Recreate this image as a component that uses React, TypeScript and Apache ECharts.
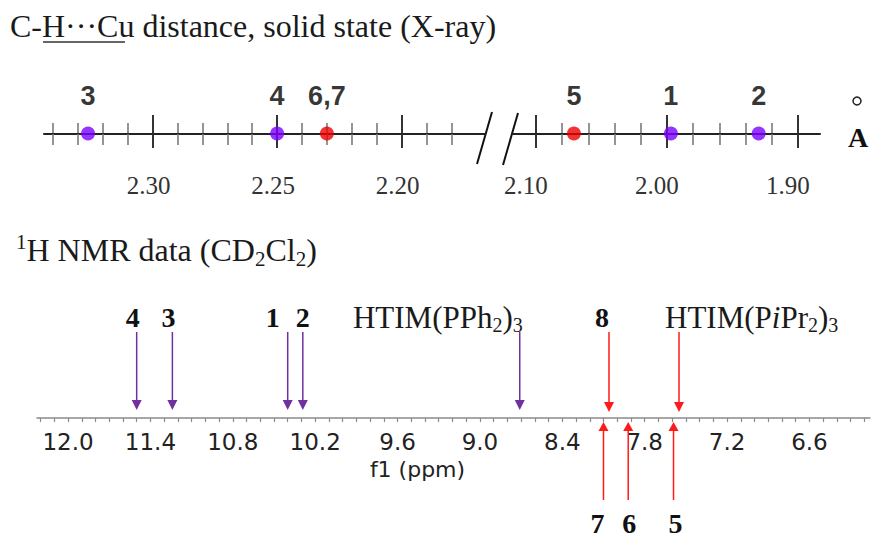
import React, { useEffect, useRef } from 'react';
import * as echarts from 'echarts';

// ---------- X-ray C-H···Cu distances (Å) ----------
const xrayCompounds = ['3', '4', '6,7', '5', '1', '2'];
const xrayDistances = [2.326, 2.25, 2.23, 2.071, 1.997, 1.93];

const xrayLeftMinorTicks = [2.34, 2.33, 2.32, 2.31, 2.29, 2.28, 2.27, 2.26, 2.24, 2.23, 2.22, 2.21, 2.19, 2.18];
const xrayLeftMajorTicks = [2.3, 2.25, 2.2];
const xrayRightMinorTicks = [2.08, 2.06, 2.04, 2.02, 1.98, 1.96, 1.94, 1.92];
const xrayRightMajorTicks = [2.1, 2.0, 1.9];
const xrayLeftTickLabels = [2.3, 2.25, 2.2];
const xrayRightTickLabels = [2.1, 2.0, 1.9];

// ---------- 1H NMR shifts (ppm) ----------
const nmrCompounds = ['4', '3', '1', '2', 'HTIM(PPh2)3', '8', 'HTIM(PiPr2)3', '7', '6', '5'];
const nmrShifts = [11.5, 11.24, 10.4, 10.29, 8.71, 8.06, 7.55, 8.1, 7.92, 7.59];
const nmrTickLabels = [12.0, 11.4, 10.8, 10.2, 9.6, 9.0, 8.4, 7.8, 7.2, 6.6];
const nmrMinorTicks = Array.from({ length: 61 }, (_, i) => Math.round((6.2 + i * 0.1) * 10) / 10);

// ---------- styles ----------
const SERIF = '"Liberation Serif", "Times New Roman", serif';
const SANS = '"Liberation Sans", Arial, sans-serif';
const NMR_FONT = '"DejaVu Sans", Verdana, sans-serif';
const INK = '#1a1a1a';
const PURPLE_DOT = '#7b00ff';
const RED_DOT = '#ee0000';
const PURPLE_ARROW = '#7030a0';
const RED_ARROW = '#ff1a1a';
const redCompounds = new Set(['6,7', '5']);
const BREAK_VALUE = 2.15;

const arrowKind: Record<string, 'purpleDown' | 'redDown' | 'redUp'> = {
  '4': 'purpleDown', '3': 'purpleDown', '1': 'purpleDown', '2': 'purpleDown', 'HTIM(PPh2)3': 'purpleDown',
  '8': 'redDown', 'HTIM(PiPr2)3': 'redDown',
  '7': 'redUp', '6': 'redUp', '5': 'redUp',
};
const labelDx: Record<string, number> = { '4': -4, '3': -4, '1': -15, '2': 0, '8': -7, '7': -6, '6': 1, '5': 2 };

const richLabel = (name: string) => {
  if (name === 'HTIM(PPh2)3') return '{n|HTIM(PPh}{s|2}{n|)}{s|3}';
  if (name === 'HTIM(PiPr2)3') return '{n|HTIM(P}{i|i}{n|Pr}{s|2}{n|)}{s|3}';
  return `{b|${name}}`;
};

const LABEL_RICH = {
  n: { fontFamily: SERIF, fontSize: 31, lineHeight: 36, fill: INK },
  i: { fontFamily: SERIF, fontSize: 31, fontStyle: 'italic', lineHeight: 36, fill: INK },
  s: { fontFamily: SERIF, fontSize: 20, lineHeight: 16, verticalAlign: 'bottom', fill: INK },
  b: { fontFamily: SERIF, fontSize: 28, fontWeight: 'bold', lineHeight: 24, fill: '#111' },
};

const TITLE_RICH = {
  n: { fontFamily: SERIF, fontSize: 32, lineHeight: 38, fill: INK },
  s: { fontFamily: SERIF, fontSize: 21, lineHeight: 16, verticalAlign: 'bottom', fill: INK },
  sup: { fontFamily: SERIF, fontSize: 21, lineHeight: 30, verticalAlign: 'top', fill: INK },
};

const LEFT_RANGE = { min: 2.16645, max: 2.3437 };
const RIGHT_RANGE = { min: 1.8832, max: 2.1175 };
const NMR_RANGE = { min: 6.159, max: 12.226 };

const tickAxis = (gridIndex: number, position: string, ticks: number[], length: number, color: string, width: number, range: any) => ({
  type: 'value',
  gridIndex,
  position,
  min: range.min,
  max: range.max,
  inverse: true,
  axisLine: { show: false, onZero: false },
  axisTick: { show: true, customValues: ticks, length, inside: false, lineStyle: { color, width } },
  axisLabel: { show: false },
  splitLine: { show: false },
});

const mainAxis = (gridIndex: number, ticks: number[], labels: number[], range: any, labelShift: number) => ({
  type: 'value',
  gridIndex,
  position: 'bottom',
  min: range.min,
  max: range.max,
  inverse: true,
  axisLine: { show: true, onZero: false, lineStyle: { color: '#222', width: 2 } },
  axisTick: { show: true, customValues: ticks, length: 11, inside: false, lineStyle: { color: '#7a7a7a', width: 1.6 } },
  axisLabel: {
    show: true,
    customValues: labels,
    formatter: (v: number) => v.toFixed(2),
    margin: 39,
    fontFamily: SERIF,
    fontSize: 25,
    color: '#333',
    padding: [0, labelShift * 2, 0, 0],
  },
  splitLine: { show: false },
});

export default function App() {
  const ref = useRef<HTMLDivElement>(null);

  useEffect(() => {
    if (!ref.current) return;
    const chart = echarts.init(ref.current, null, { renderer: 'svg' });

    const dots = xrayCompounds.map((c, i) => ({
      name: c,
      value: [xrayDistances[i], 0],
      itemStyle: { color: redCompounds.has(c) ? RED_DOT : PURPLE_DOT },
    }));
    const dotLabel = {
      show: true,
      position: 'top',
      distance: 17,
      formatter: '{b}',
      fontFamily: SANS,
      fontWeight: 'bold',
      fontSize: 27,
      color: '#000',
    };

    const option: any = {
      animation: false,
      backgroundColor: '#fff',
      grid: [
        { left: 44, top: 133, width: 441, height: 1, outerBoundsMode: 'none', containLabel: false },
        { left: 513, top: 133, width: 307, height: 1, outerBoundsMode: 'none', containLabel: false },
        { left: 37, top: 300, width: 833, height: 118, outerBoundsMode: 'none', containLabel: false },
      ],
      xAxis: [
        mainAxis(0, xrayLeftMinorTicks, xrayLeftTickLabels, LEFT_RANGE, 4),
        tickAxis(0, 'top', xrayLeftMinorTicks, 10, '#7a7a7a', 1.6, LEFT_RANGE),
        tickAxis(0, 'bottom', xrayLeftMajorTicks, 14, '#333', 2, LEFT_RANGE),
        tickAxis(0, 'top', xrayLeftMajorTicks, 18, '#333', 2, LEFT_RANGE),
        mainAxis(1, xrayRightMinorTicks, xrayRightTickLabels, RIGHT_RANGE, 10),
        tickAxis(1, 'top', xrayRightMinorTicks, 10, '#7a7a7a', 1.6, RIGHT_RANGE),
        tickAxis(1, 'bottom', xrayRightMajorTicks, 14, '#333', 2, RIGHT_RANGE),
        tickAxis(1, 'top', xrayRightMajorTicks, 18, '#333', 2, RIGHT_RANGE),
        {
          type: 'value',
          gridIndex: 2,
          position: 'bottom',
          min: NMR_RANGE.min,
          max: NMR_RANGE.max,
          inverse: true,
          axisLine: { show: true, onZero: false, lineStyle: { color: '#8a8a8a', width: 1.5 } },
          axisTick: { show: true, customValues: nmrMinorTicks, length: 4, inside: false, lineStyle: { color: '#8a8a8a', width: 1.2 } },
          axisLabel: {
            show: true,
            customValues: nmrTickLabels,
            formatter: (v: number) => v.toFixed(1),
            margin: 12,
            fontFamily: NMR_FONT,
            fontSize: 23,
            color: '#222',
          },
          name: 'f1 (ppm)',
          nameLocation: 'middle',
          nameGap: 40,
          nameTextStyle: { fontFamily: NMR_FONT, fontSize: 22, color: '#222', padding: [0, 72, 0, 0] },
          splitLine: { show: false },
        },
      ],
      yAxis: [
        { type: 'value', gridIndex: 0, min: -1, max: 1, show: false },
        { type: 'value', gridIndex: 1, min: -1, max: 1, show: false },
        { type: 'value', gridIndex: 2, min: 0, max: 1, show: false },
      ],
      series: [
        {
          type: 'scatter',
          xAxisIndex: 0,
          yAxisIndex: 0,
          symbol: 'circle',
          symbolSize: 14,
          data: dots.filter((d) => d.value[0] > BREAK_VALUE),
          label: dotLabel,
          z: 5,
        },
        {
          type: 'scatter',
          xAxisIndex: 4,
          yAxisIndex: 1,
          symbol: 'circle',
          symbolSize: 14,
          data: dots.filter((d) => d.value[0] < BREAK_VALUE),
          label: dotLabel,
          z: 5,
        },
        {
          type: 'custom',
          xAxisIndex: 8,
          yAxisIndex: 2,
          clip: false,
          data: nmrShifts.map((v) => [v, 0]),
          renderItem: (params: any, api: any) => {
            const name = nmrCompounds[params.dataIndex];
            const kind = arrowKind[name];
            const [x, y0] = api.coord([api.value(0), 0]);
            const color = kind === 'purpleDown' ? PURPLE_ARROW : RED_ARROW;
            const children: any[] = [];
            if (kind === 'redUp') {
              children.push({ type: 'line', shape: { x1: x, y1: y0 + 12, x2: x, y2: y0 + 82 }, style: { stroke: color, lineWidth: 1.5 } });
              children.push({ type: 'polygon', shape: { points: [[x - 5, y0 + 13], [x + 5, y0 + 13], [x, y0 + 4]] }, style: { fill: color } });
            } else {
              const tipY = kind === 'purpleDown' ? y0 - 8 : y0 - 6;
              children.push({ type: 'line', shape: { x1: x, y1: y0 - 86, x2: x, y2: tipY - 9 }, style: { stroke: color, lineWidth: 1.5 } });
              children.push({ type: 'polygon', shape: { points: [[x - 5, tipY - 10], [x + 5, tipY - 10], [x, tipY]] }, style: { fill: color } });
            }
            let lx = x + (labelDx[name] ?? 0);
            let align = 'center';
            if (name === 'HTIM(PPh2)3') { lx = x + 3; align = 'right'; }
            if (name === 'HTIM(PiPr2)3') { lx = x - 14; align = 'left'; }
            const ly = kind === 'redUp' ? y0 + 105 : y0 - 101;
            children.push({
              type: 'text',
              x: lx,
              y: ly,
              style: { text: richLabel(name), rich: LABEL_RICH, align, verticalAlign: 'middle' },
            });
            return { type: 'group', children };
          },
        },
      ],
      graphic: [
        {
          type: 'text', x: 10, y: 26,
          style: { text: '{n|C-H···Cu distance, solid state (X-ray)}', rich: TITLE_RICH, align: 'left', verticalAlign: 'middle', textAlign: 'left', textVerticalAlign: 'middle' },
        },
        { type: 'line', shape: { x1: 43, y1: 42, x2: 125, y2: 42 }, style: { stroke: '#333', lineWidth: 1.5 } },
        {
          type: 'text', x: 16, y: 250,
          style: { text: '{sup|1}{n|H NMR data (CD}{s|2}{n|Cl}{s|2}{n|)}', rich: TITLE_RICH, align: 'left', verticalAlign: 'middle', textAlign: 'left', textVerticalAlign: 'middle' },
        },
        { type: 'line', shape: { x1: 477, y1: 164, x2: 492, y2: 112 }, style: { stroke: '#111', lineWidth: 2 } },
        { type: 'line', shape: { x1: 503, y1: 165, x2: 518, y2: 113 }, style: { stroke: '#111', lineWidth: 2 } },
        {
          type: 'text', x: 858, y: 137,
          style: { text: 'A', font: `bold 28px ${SERIF}`, fill: '#111', align: 'center', verticalAlign: 'middle', textAlign: 'center', textVerticalAlign: 'middle' },
        },
        { type: 'circle', shape: { cx: 857, cy: 101, r: 4 }, style: { fill: 'none', stroke: '#222', lineWidth: 1.5 } },
      ],
    };

    chart.setOption(option);
    return () => chart.dispose();
  }, []);

  return (
    <div
      ref={ref}
      style={{ position: 'fixed', left: 0, top: 0, width: 871, height: 540, background: '#fff' }}
    />
  );
}
